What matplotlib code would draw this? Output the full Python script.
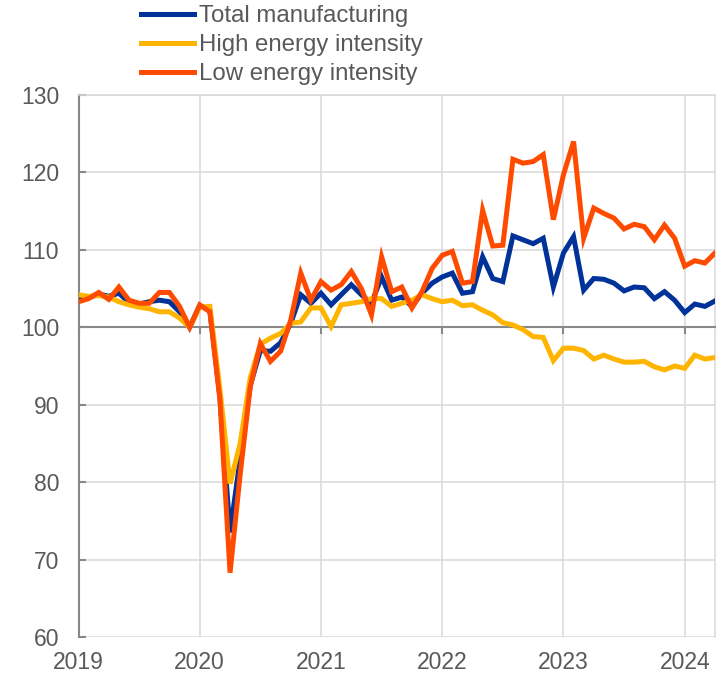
import numpy as np
import matplotlib
matplotlib.use("Agg")
import matplotlib.pyplot as plt

plt.rcParams['font.family'] = ['Liberation Sans', 'DejaVu Sans']

# monthly index values, Jan 2019 - Apr 2024
total = [103.5, 103.8, 104.3, 104.0, 104.4, 103.2, 103.0, 103.3, 103.5, 103.3, 102.0, 100.0,
         102.8, 102.2, 91.0, 73.5, 83.0, 92.5, 97.0, 96.9, 98.0, 100.5, 104.2, 103.1,
         104.4, 102.9, 104.2, 105.5, 104.2, 103.1, 106.5, 103.5, 103.9, 102.7, 104.4, 105.7,
         106.5, 107.0, 104.4, 104.6, 109.1, 106.3, 105.9, 111.8, 111.3, 110.8, 111.5, 105.2,
         109.6, 111.7, 104.8, 106.3, 106.2, 105.7, 104.7, 105.2, 105.1, 103.7, 104.6, 103.5,
         101.9, 103.0, 102.7, 103.4]
high = [104.2, 104.0, 104.1, 103.9, 103.3, 102.9, 102.6, 102.4, 102.0, 102.0, 101.2, 100.0,
        102.6, 102.7, 92.0, 79.8, 85.0, 93.5, 97.8, 98.6, 99.2, 100.5, 100.7, 102.5,
        102.5, 100.1, 102.9, 103.1, 103.3, 103.7, 103.7, 102.7, 103.1, 103.5, 104.2, 103.7,
        103.3, 103.5, 102.8, 102.9, 102.2, 101.6, 100.6, 100.3, 99.7, 98.8, 98.7, 95.7,
        97.3, 97.3, 97.0, 95.9, 96.4, 95.9, 95.5, 95.5, 95.6, 94.9, 94.5, 95.0,
        94.7, 96.4, 95.9, 96.1]
low = [103.3, 103.7, 104.5, 103.6, 105.2, 103.5, 103.1, 103.1, 104.5, 104.5, 102.7, 100.0,
       102.9, 102.0, 90.6, 68.3, 81.0, 92.3, 97.9, 95.6, 96.9, 100.9, 107.0, 103.5,
       105.9, 104.8, 105.5, 107.2, 105.0, 101.6, 109.1, 104.6, 105.2, 102.5, 104.6, 107.6,
       109.3, 109.8, 105.7, 105.9, 115.1, 110.5, 110.6, 121.7, 121.2, 121.4, 122.3, 113.9,
       119.7, 124.0, 111.5, 115.4, 114.7, 114.1, 112.7, 113.3, 113.0, 111.3, 113.2, 111.5,
       107.9, 108.6, 108.3, 109.6]
years = ['2019', '2020', '2021', '2022', '2023', '2024']
labels = ['Total manufacturing', 'High energy intensity', 'Low energy intensity']
colors = ['#003299', '#FFB400', '#FF4B00']

months = np.arange(len(total))
year_pos = np.arange(len(years)) * 12
grey = '#595959'

fig = plt.figure(figsize=(7.21, 6.75), dpi=100)
ax = fig.add_axes([78.5/721, 1-637/675, (715-78.5)/721, (637-95)/675])

for series, lab, c in zip([total, high, low], labels, colors):
    ax.plot(months, series, color=c, lw=3.6, label=lab, zorder=3, solid_joinstyle='miter')

ax.set_xlim(0, len(total) - 1)
ax.set_ylim(60, 130)
ax.set_yticks(np.arange(60, 131, 10))
ax.set_xticks(year_pos)
ax.grid(True, color='#D9D9D9', lw=1.1)
ax.set_axisbelow(True)

# x axis line sits at 100
ax.spines['bottom'].set_position(('data', 100))
ax.spines['bottom'].set_color('#888888')
ax.spines['bottom'].set_linewidth(1.5)
ax.spines['left'].set_color('#888888')
ax.spines['left'].set_linewidth(1.5)
ax.spines['top'].set_color('#D9D9D9')
ax.spines['right'].set_color('#D9D9D9')
ax.spines['right'].set_linewidth(1.1)
ax.spines['top'].set_linewidth(1.1)
ax.tick_params(axis='x', direction='out', length=5, width=1.5, color='#888888', labelbottom=False)
ax.tick_params(axis='y', direction='in', length=5, width=1.5, color='#888888',
               labelsize=16.5, labelcolor=grey, pad=14)

# year labels at the bottom
sec = ax.secondary_xaxis('bottom')
sec.set_xticks(year_pos)
sec.set_xticklabels(years)
sec.tick_params(length=0, labelsize=16.5, labelcolor=grey, pad=10)
sec.spines['bottom'].set_visible(False)

leg = ax.legend(loc='upper left', bbox_to_anchor=(141/721, 1 - 5/675), bbox_transform=fig.transFigure,
                frameon=False, fontsize=17.3, handlelength=2.2, handletextpad=0.22,
                labelspacing=0.29, borderpad=0, borderaxespad=0)
for t in leg.get_texts():
    t.set_color(grey)

fig.savefig('out.png', dpi=100)
